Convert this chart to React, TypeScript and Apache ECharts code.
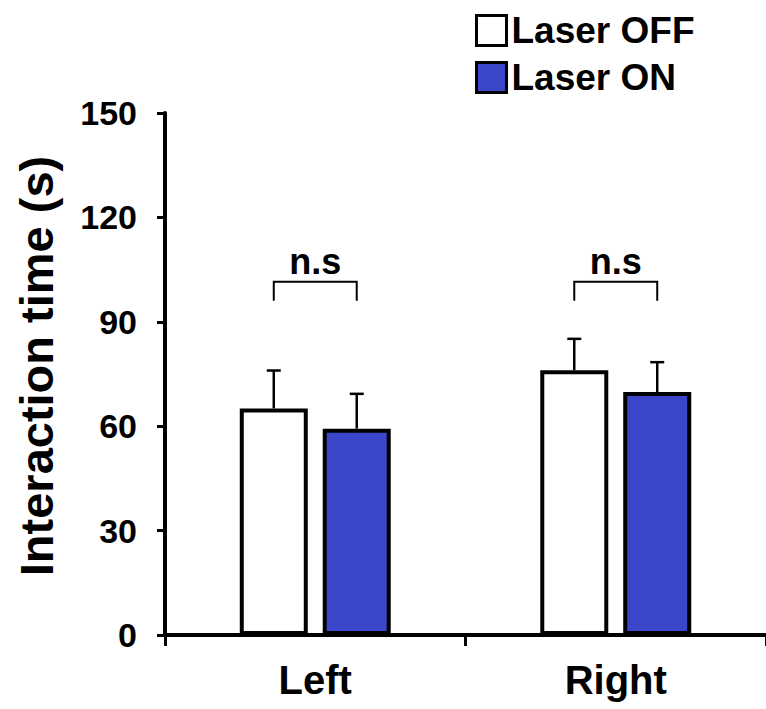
import React, { useEffect, useRef } from "react";
import * as echarts from "echarts";

const categories = ["Left", "Right"];
const laserOff = [65.1, 76.1];
const laserOn = [59.3, 69.8];
const offSem = [10.9, 9.0];
const onSem = [10.0, 8.6];
const bracketLevel = [101.5, 101.5];
const sigLabels = ["n.s", "n.s"];
const yTicks = { min: 0, max: 150, interval: 30 };

const FONT = "'Liberation Sans', Arial, sans-serif";
const BAR_W = 68;
const GAP_RATIO = 0.22;
const OFFSET = (BAR_W + BAR_W * GAP_RATIO) / 2;
const BLUE = "#3B47C8";

function errRender(sign: number) {
  return (params: any, api: any) => {
    const cat = api.value(0);
    const mean = api.value(1);
    const sem = api.value(2);
    const p0 = api.coord([cat, mean]);
    const p1 = api.coord([cat, mean + sem]);
    const x = p0[0] + sign * OFFSET;
    const style = { stroke: "#000", lineWidth: 2.5 };
    return {
      type: "group",
      children: [
        { type: "line", shape: { x1: x, y1: p0[1], x2: x, y2: p1[1] }, style },
        { type: "line", shape: { x1: x - 7, y1: p1[1], x2: x + 7, y2: p1[1] }, style },
      ],
    };
  };
}

function bracketRender(params: any, api: any) {
  const cat = api.value(0);
  const level = api.value(1);
  const p = api.coord([cat, level]);
  const xl = p[0] - OFFSET;
  const xr = p[0] + OFFSET;
  const y = p[1];
  return {
    type: "group",
    children: [
      {
        type: "polyline",
        shape: { points: [[xl, y + 19], [xl, y], [xr, y], [xr, y + 19]] },
        style: { stroke: "#000", lineWidth: 2, fill: "none" },
      },
      {
        type: "text",
        style: {
          text: sigLabels[params.dataIndex],
          x: p[0],
          y: y - 2,
          align: "center",
          verticalAlign: "bottom",
          fontSize: 36,
          fontWeight: "bold",
          fontFamily: FONT,
          fill: "#000",
        },
      },
    ],
  };
}

export default function App() {
  const ref = useRef<HTMLDivElement>(null);
  useEffect(() => {
    document.body.style.margin = "0";
    const chart = echarts.init(ref.current!, null, { renderer: "svg" });
    chart.setOption({
      animation: false,
      grid: { left: 165, top: 113, width: 608, height: 522 },
      legend: {
        orient: "vertical",
        left: 470,
        top: 7,
        itemWidth: 30,
        itemHeight: 30,
        itemGap: 10,
        icon: "rect",
        itemStyle: { borderColor: "#000", borderWidth: 3 },
        textStyle: { fontSize: 37, fontWeight: "bold", color: "#000", fontFamily: FONT },
        data: ["Laser OFF", "Laser ON"],
      },
      graphic: [
        {
          type: "text",
          x: 36,
          y: 366,
          rotation: Math.PI / 2,
          style: {
            text: "Interaction time (s)",
            align: "center",
            verticalAlign: "middle",
            fontSize: 47,
            fontWeight: "bold",
            fontFamily: FONT,
            fill: "#000",
          },
        },
      ],
      xAxis: {
        type: "category",
        data: categories,
        boundaryGap: true,
        axisLine: { lineStyle: { color: "#000", width: 4 } },
        axisTick: { show: true, length: 11, lineStyle: { color: "#000", width: 3 } },
        axisLabel: { fontSize: 40, fontWeight: "bold", color: "#000", fontFamily: FONT, margin: 25 },
        splitLine: { show: false },
      },
      yAxis: {
        type: "value",
        min: yTicks.min,
        max: yTicks.max,
        interval: yTicks.interval,
        axisLine: { show: true, lineStyle: { color: "#000", width: 4 } },
        axisTick: { show: true, length: 8, lineStyle: { color: "#000", width: 3 } },
        axisLabel: { fontSize: 34, fontWeight: "bold", color: "#000", fontFamily: FONT, margin: 28 },
        splitLine: { show: false },
      },
      series: [
        {
          type: "bar",
          name: "Laser OFF",
          data: laserOff,
          barWidth: BAR_W,
          barGap: GAP_RATIO * 100 + "%",
          itemStyle: { color: "#fff", borderColor: "#000", borderWidth: 4 },
        },
        {
          type: "bar",
          name: "Laser ON",
          data: laserOn,
          barWidth: BAR_W,
          barGap: GAP_RATIO * 100 + "%",
          itemStyle: { color: BLUE, borderColor: "#000", borderWidth: 4 },
        },
        {
          type: "custom",
          name: "errOff",
          renderItem: errRender(-1),
          data: categories.map((_, i) => [i, laserOff[i], offSem[i]]),
          z: 5,
        },
        {
          type: "custom",
          name: "errOn",
          renderItem: errRender(1),
          data: categories.map((_, i) => [i, laserOn[i], onSem[i]]),
          z: 5,
        },
        {
          type: "custom",
          name: "brackets",
          renderItem: bracketRender,
          data: categories.map((_, i) => [i, bracketLevel[i]]),
          z: 5,
        },
      ],
    });
    return () => chart.dispose();
  }, []);
  return <div ref={ref} style={{ width: 766, height: 709 }} />;
}
